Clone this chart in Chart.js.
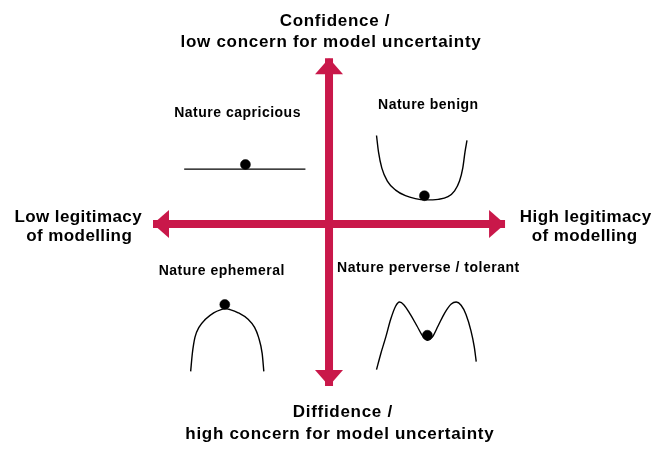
<!DOCTYPE html>
<html>
<head>
<meta charset="utf-8">
<script src="https://cdn.jsdelivr.net/npm/chart.js@4.4.1/dist/chart.umd.min.js"></script>
<style>
  html, body { margin: 0; padding: 0; background: #ffffff; }
  #wrap { width: 661px; height: 449px; }
</style>
</head>
<body>
<div id="wrap"><canvas id="c" width="661" height="449"></canvas></div>
<script>
// ---- Diagram data (abstract plane, 0..661 wide, 0..449 tall, y downward) ----
const axisX = [0, 661];
const axisY = [0, 449];

// Axes arrows (tip to tip)
const hArrowX = [150, 508];
const hArrowY = [224, 224];
const vArrowX = [329, 329];
const vArrowY = [54, 390];

// Nature capricious: flat landscape
const capriciousX = [181.7, 305];
const capriciousY = [167.7, 167.7];
const capriciousBall = [244, 163];

// Nature benign: bowl
const benignX = [377.3, 379.3, 382.7, 388.3, 396.7, 406.7, 416.7, 426.7, 440, 450, 456.7, 461.7, 465, 467.3, 469.3];
const benignY = [133.3, 150, 166.7, 180, 189.3, 195, 198, 199.3, 198.7, 196, 190, 180, 166.7, 150, 138.3];
const benignBall = [426, 195];

// Nature ephemeral: hill
const ephemeralX = [188.3, 190, 192.7, 196.7, 203.3, 211.7, 219.3, 223.3, 228.3, 236.7, 246.7, 253.3, 257.3, 261, 262.7];
const ephemeralY = [375, 356.7, 340, 330, 321.7, 315, 311.7, 310.7, 311.7, 315, 321.7, 330, 340, 356.7, 375];
const ephemeralBall = [223, 306.5];

// Nature perverse / tolerant: M shape
const perverseX = [377.3, 381.7, 386.7, 391.7, 396.7, 400.7, 405, 411.7, 418.3, 425, 429.3, 434, 440, 446.7, 453.3, 458.3, 463.3, 468.3, 473.3, 476.7, 478.7];
const perverseY = [373.3, 356.7, 340, 321.7, 308.3, 304, 306.7, 316.7, 328.3, 340, 343.3, 340, 328.3, 315, 306, 304, 307.3, 316.7, 333.3, 350, 365];
const perverseBall = [429, 338];

// Text labels
const topLabel = ["Confidence /", "low concern for model uncertainty"];
const bottomLabel = ["Diffidence /", "high concern for model uncertainty"];
const leftLabel = ["Low legitimacy", "of modelling"];
const rightLabel = ["High legitimacy", "of modelling"];
const quadrantLabels = ["Nature capricious", "Nature benign", "Nature ephemeral", "Nature perverse / tolerant"];

// ---- helpers ----
const zip = (xs, ys) => xs.map((x, i) => ({ x, y: ys[i] }));
const RED = '#C9184A';

const curve = (label, xs, ys) => ({
  label, data: zip(xs, ys), showLine: true, borderColor: '#000', borderWidth: 1.4,
  pointRadius: 0, cubicInterpolationMode: 'monotone', clip: false, fill: false
});
const ball = (label, p) => ({
  label, data: [{ x: p[0], y: p[1] }], showLine: false, pointRadius: 5,
  pointBackgroundColor: '#000', pointBorderColor: '#000', pointBorderWidth: 0.5, clip: false
});
const arrow = (label, xs, ys) => ({
  label, data: zip(xs, ys), showLine: true, borderColor: RED, borderWidth: 8,
  borderCapStyle: 'butt', pointRadius: 0, clip: false, isArrow: true
});

const decorPlugin = {
  id: 'decor',
  afterDatasetsDraw(chart) {
    const ctx = chart.ctx;
    // arrowheads from arrow dataset end points
    chart.data.datasets.forEach((ds, i) => {
      if (!ds.isArrow) return;
      const pts = chart.getDatasetMeta(i).data;
      const ends = [[pts[0], pts[1]], [pts[pts.length - 1], pts[pts.length - 2]]];
      ends.forEach(([tip, from]) => {
        const ang = Math.atan2(tip.y - from.y, tip.x - from.x);
        const len = 16, half = 14;
        const bx = tip.x - Math.cos(ang) * len, by = tip.y - Math.sin(ang) * len;
        ctx.save();
        ctx.fillStyle = RED;
        ctx.beginPath();
        ctx.moveTo(tip.x, tip.y);
        ctx.lineTo(bx - Math.sin(ang) * half, by + Math.cos(ang) * half);
        ctx.lineTo(bx + Math.sin(ang) * half, by - Math.cos(ang) * half);
        ctx.closePath();
        ctx.fill();
        ctx.restore();
      });
    });
    // text
    const sx = chart.scales.x, sy = chart.scales.y;
    const put = (txt, x, y, size, spacing) => {
      ctx.save();
      ctx.font = 'bold ' + size + 'px "Liberation Sans", Arial, sans-serif';
      ctx.fillStyle = '#000';
      ctx.textAlign = 'center';
      ctx.textBaseline = 'alphabetic';
      if ('letterSpacing' in ctx) ctx.letterSpacing = spacing + 'px';
      ctx.fillText(txt, sx.getPixelForValue(x), sy.getPixelForValue(y));
      ctx.restore();
    };
    put(topLabel[0], 335, 21, 17, 0.7);
    put(topLabel[1], 331, 43, 17, 0.7);
    put(bottomLabel[0], 343, 422, 17, 0.7);
    put(bottomLabel[1], 340, 444, 17, 0.7);
    put(leftLabel[0], 74, 222, 17, 0.4);
    put(leftLabel[1], 75, 241, 17, 0.4);
    put(rightLabel[0], 590, 222, 17, 0.4);
    put(rightLabel[1], 589, 241, 17, 0.4);
    put(quadrantLabels[0], 236, 114, 14, 0.5);
    put(quadrantLabels[1], 430, 106, 14, 0.5);
    put(quadrantLabels[2], 220, 276, 14, 0.5);
    put(quadrantLabels[3], 430, 273, 14, 0.5);
  }
};

new Chart(document.getElementById('c'), {
  type: 'scatter',
  data: {
    datasets: [
      arrow('horizontal axis', hArrowX, hArrowY),
      arrow('vertical axis', vArrowX, vArrowY),
      curve('capricious', capriciousX, capriciousY),
      curve('benign', benignX, benignY),
      curve('ephemeral', ephemeralX, ephemeralY),
      curve('perverse', perverseX, perverseY),
      ball('capricious ball', capriciousBall),
      ball('benign ball', benignBall),
      ball('ephemeral ball', ephemeralBall),
      ball('perverse ball', perverseBall)
    ]
  },
  options: {
    responsive: false,
    animation: false,
    devicePixelRatio: 1,
    layout: { padding: 0 },
    plugins: { legend: { display: false }, tooltip: { enabled: false }, title: { display: false } },
    scales: {
      x: { type: 'linear', min: axisX[0], max: axisX[1], display: false },
      y: { type: 'linear', min: axisY[0], max: axisY[1], reverse: true, display: false }
    }
  },
  plugins: [decorPlugin]
});
</script>
</body>
</html>
